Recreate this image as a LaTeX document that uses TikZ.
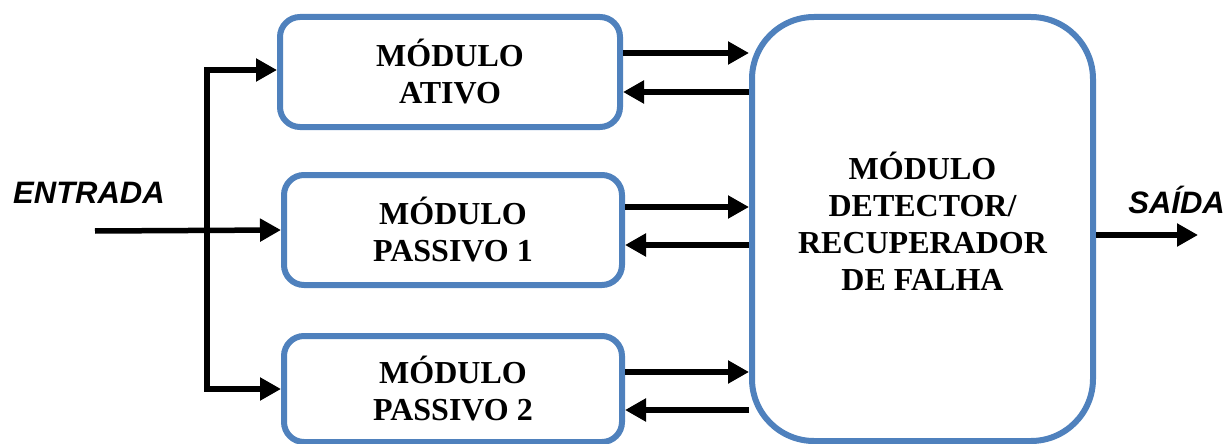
\documentclass[tikz,border=0pt]{standalone}
\usepackage{fontspec}
\setmainfont{Liberation Serif}
\newfontfamily\labelfont{Liberation Sans}
\usetikzlibrary{arrows.meta}
\definecolor{boxblue}{HTML}{4F81BD}
\begin{document}
\begin{tikzpicture}[x=1pt,y=-1pt,
  modbox/.style={draw=boxblue,line width=6pt,rounded corners=20pt,fill=white,
    align=center,inner sep=0pt,
    font=\bfseries\fontsize{32}{37}\selectfont},
  bigbox/.style={modbox,rounded corners=62pt},
  arr/.style={line width=5.5pt,-{Triangle[length=21pt,width=22pt]}},
  sig/.style={font=\labelfont\bfseries\itshape\fontsize{31}{36}\selectfont,inner sep=0pt}]
\useasboundingbox (0,0) rectangle (1227,444);

% processing modules
\node[modbox,minimum width=340pt,minimum height=110pt] (ativo) at (450,72) {MÓDULO\\ATIVO};
\node[modbox,minimum width=338pt,minimum height=110pt] (pass1) at (453,230) {MÓDULO\\PASSIVO 1};
\node[modbox,minimum width=338pt,minimum height=106pt] (pass2) at (453,389) {MÓDULO\\PASSIVO 2};

% fault detector / recovery module
\node[bigbox,minimum width=341pt,minimum height=424pt,text depth=16pt] (det) at (922.5,229)
  {MÓDULO\\DETECTOR/\\RECUPERADOR\\DE FALHA};

% input and output labels
\node[sig,anchor=base west] (entrada) at (13,203) {ENTRADA};
\node[sig,anchor=base east] (saida) at (1225,213) {SAÍDA};

% signal levels
\coordinate (src) at (95,231);
\coordinate (fork) at (207,231);
\coordinate (top) at (207,70);
\coordinate (r1) at (0,53);
\coordinate (l1) at (0,92);
\coordinate (r2) at (0,207);
\coordinate (l2) at (0,245);
\coordinate (r3) at (0,372);
\coordinate (l3) at (0,410);
\coordinate (out) at (1198,235);

% input distribution
\draw[arr] (src) -- (pass1.west);
\draw[arr,line join=miter] (fork) -- (top) -- (top -| ativo.west);
\draw[arr,line join=miter] (fork) |- (pass2.west);

% module <-> detector links
\draw[arr] (ativo.east |- r1) -- (det.west |- r1);
\draw[arr] (det.west |- l1) -- (ativo.east |- l1);
\draw[arr] (pass1.east |- r2) -- (det.west |- r2);
\draw[arr] (det.west |- l2) -- (pass1.east |- l2);
\draw[arr] (pass2.east |- r3) -- (det.west |- r3);
\draw[arr] (det.west |- l3) -- (pass2.east |- l3);

% output
\draw[arr] (det.east |- out) -- (out);
\end{tikzpicture}
\end{document}
